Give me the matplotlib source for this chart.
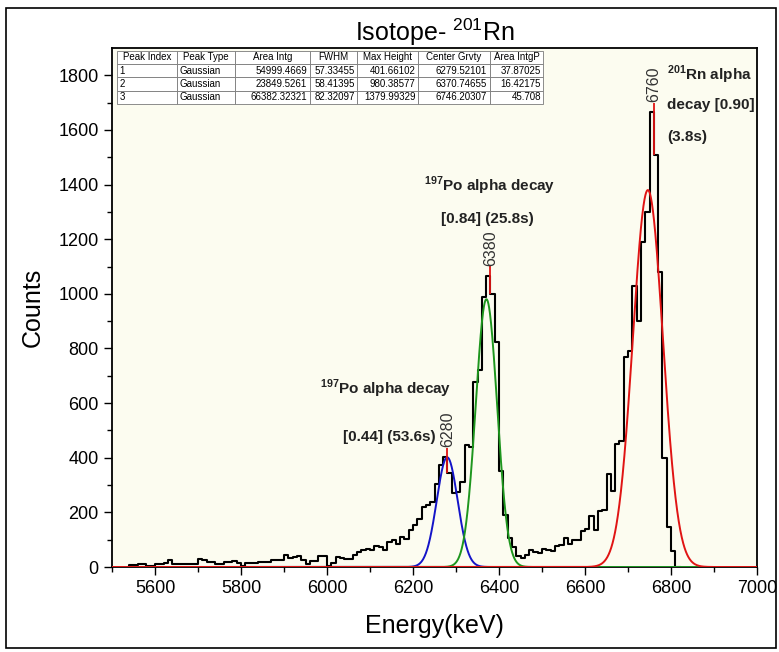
import numpy as np
import matplotlib
matplotlib.use('Agg')
import matplotlib.pyplot as plt
from matplotlib.patches import Rectangle

# ---------------- data ----------------
bin_width = 10
first_edge = 5540
counts = [0, 6, 6, 10, 10, 3, 5, 12, 12, 15, 24, 10, 10, 10, 10, 11, 10, 28, 24, 18,
          17, 12, 10, 18, 20, 22, 15, 5, 15, 16, 15, 17, 17, 18, 25, 27, 27, 43, 33, 38,
          39, 24, 10, 22, 22, 40, 40, 4, 15, 35, 34, 28, 30, 43, 55, 62, 67, 64, 76, 73,
          62, 90, 98, 85, 110, 104, 134, 153, 177, 220, 226, 238, 305, 373, 402, 345, 270, 275, 312, 446,
          440, 678, 720, 990, 1066, 1000, 825, 350, 192, 106, 72, 39, 33, 45, 64, 55, 50, 65, 64, 57,
          76, 82, 106, 84, 100, 100, 131, 140, 186, 137, 204, 210, 340, 280, 450, 460, 770, 790, 1030, 900,
          1190, 1300, 1664, 1510, 1080, 400, 145, 60, 0]
energy = first_edge + bin_width * np.arange(len(counts))

# Gaussian fit results (from the table)
fit_centers = [6279.52101, 6370.74655, 6746.20307]
fit_fwhm = [57.33455, 58.41395, 82.32097]
fit_heights = [401.66102, 980.38577, 1379.99329]
fit_colors = ['#1414c8', '#1e961e', '#e01414']

peak_positions = [6280, 6380, 6760]
peak_labels = ['6280', '6380', '6760']

table_header = ['Peak Index', 'Peak Type', 'Area Intg', 'FWHM', 'Max Height', 'Center Grvty', 'Area IntgP']
table_rows = [
    ['1', 'Gaussian', '54999.4669', '57.33455', '401.66102', '6279.52101', '37.87025'],
    ['2', 'Gaussian', '23849.5261', '58.41395', '980.38577', '6370.74655', '16.42175'],
    ['3', 'Gaussian', '66382.32321', '82.32097', '1379.99329', '6746.20307', '45.708'],
]

x_ticks = [5600, 5800, 6000, 6200, 6400, 6600, 6800, 7000]
y_ticks = [0, 200, 400, 600, 800, 1000, 1200, 1400, 1600, 1800]

# ---------------- style ----------------
plt.rcParams['font.family'] = ['Liberation Sans', 'DejaVu Sans']
plt.rcParams['mathtext.fontset'] = 'custom'
plt.rcParams['mathtext.rm'] = 'Liberation Sans'
plt.rcParams['mathtext.bf'] = 'Liberation Sans:bold'

W, H = 779, 652
fig = plt.figure(figsize=(W / 100, H / 100), dpi=100)
ax = fig.add_axes([112 / W, 1 - 567 / H, (757 - 112) / W, (567 - 48) / H])
ax.set_facecolor('#fcfcf0')

# outer frame
fig.patches.append(Rectangle((6 / W, 4 / H), (776 - 6) / W, (644 - 4) / H,
                             transform=fig.transFigure, fill=False, edgecolor='black', linewidth=1.2))

# Gaussian fits
xg = np.linspace(5500, 7000, 3001)
for c, f, h, col, z in zip(fit_centers, fit_fwhm, fit_heights, fit_colors, [3, 3, 4]):
    sigma = f / (2 * np.sqrt(2 * np.log(2)))
    ax.plot(xg, h * np.exp(-0.5 * ((xg - c) / sigma) ** 2), color=col, lw=1.4, zorder=z)

# histogram (step)
ax.step(energy, counts, where='pre', color='black', lw=1.5, zorder=2)

# peak markers
for p, lab in zip(peak_positions, peak_labels):
    i = int(np.argmin(np.abs(energy - p)))
    top = counts[i] + 35
    low = counts[i + 1]
    ax.vlines(p, low, top, color='#e01414', lw=1.3, zorder=5)
    ax.text(p, top + 2, lab, rotation=90, ha='center', va='bottom', fontsize=11.5,
            color='#333333', zorder=6)

# annotations
bold = dict(fontsize=11, fontweight='bold', color='#222222', zorder=6)
ax.text(6137, 652, r'$^{\mathbf{197}}$Po alpha decay', ha='center', va='center', **bold)
ax.text(6146, 476, '[0.44] (53.6s)', ha='center', va='center', **bold)
ax.text(6379, 1396, r'$^{\mathbf{197}}$Po alpha decay', ha='center', va='center', **bold)
ax.text(6374, 1275, '[0.84] (25.8s)', ha='center', va='center', **bold)
ax.text(6791, 1802, r'$^{\mathbf{201}}$Rn alpha', ha='left', va='center', **bold)
ax.text(6791, 1692, 'decay [0.90]', ha='left', va='center', **bold)
ax.text(6791, 1575, '(3.8s)', ha='left', va='center', **bold)

# axes
ax.set_xlim(5500, 7000)
ax.set_ylim(0, 1900)
ax.set_xticks(x_ticks)
ax.set_yticks(y_ticks)
ax.set_xticks(np.arange(5500, 7001, 100), minor=True)
ax.set_yticks(np.arange(0, 1900, 100), minor=True)
ax.tick_params(which='major', direction='out', length=6, width=1.0, top=False, right=False,
               labelsize=13)
ax.tick_params(which='minor', direction='out', length=3.5, width=1.0, top=False, right=False)
for s in ax.spines.values():
    s.set_linewidth(1.3)

ax.set_xlabel('Energy(keV)', fontsize=18, labelpad=12)
ax.set_ylabel('Counts', fontsize=18, labelpad=10)
ax.set_title(r'Isotope- $^{201}$Rn', fontsize=18, pad=5)

# table
col_w = np.array([60, 58, 75, 47, 61, 72, 53], dtype=float)
col_w = col_w / col_w.sum()
tbl = ax.table(cellText=table_rows, colLabels=table_header, colWidths=list(col_w),
               bbox=[5 / 645, 1 - (104 - 48) / 519, 426 / 645, (104 - 50.5) / 519],
               zorder=7)
tbl.auto_set_font_size(False)
tbl.set_fontsize(7.0)
for (r, c), cell in tbl.get_celld().items():
    cell.set_edgecolor('#7a7a7a')
    cell.set_linewidth(0.6)
    cell.set_facecolor('white')
    cell.PAD = 0.04
    t = cell.get_text()
    if r == 0:
        cell._loc = 'center'
        t.set_horizontalalignment('center')
    elif c in (0, 1):
        cell._loc = 'left'
        t.set_horizontalalignment('left')
    else:
        cell._loc = 'right'
        t.set_horizontalalignment('right')

fig.savefig('out.png', dpi=100)
